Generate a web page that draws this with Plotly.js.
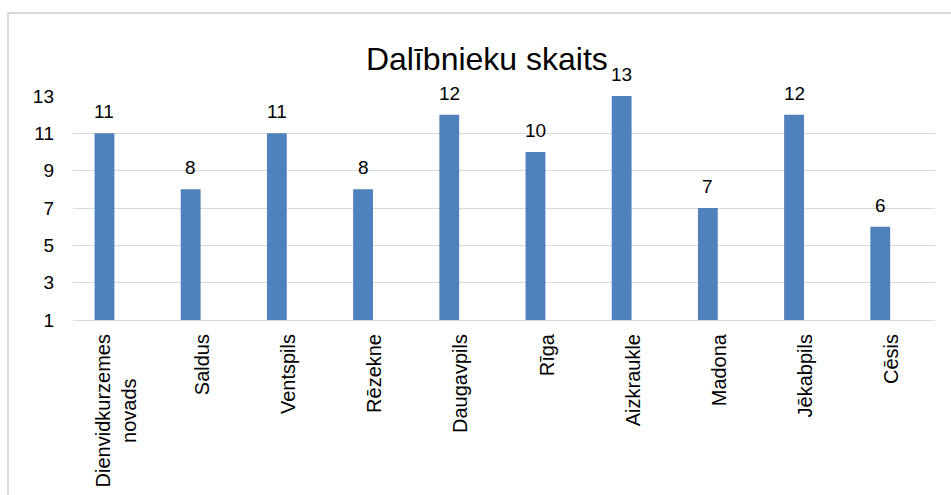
<!DOCTYPE html>
<html>
<head>
<meta charset="utf-8">
<script src="https://cdn.plot.ly/plotly-3.0.1.min.js"></script>
<style>
  html, body { margin: 0; padding: 0; background: #ffffff; overflow: hidden; }
  #frame { position: absolute; left: 7px; top: 12px; width: 1000px; height: 600px;
           border-left: 2px solid #d9d9d9; border-top: 2px solid #d9d9d9; box-sizing: border-box; }
  #chart { position: absolute; left: 0; top: 0; width: 951px; height: 495px; }
</style>
</head>
<body>
<div id="frame"></div>
<div id="chart"></div>
<script>
const categories = ["Dienvidkurzemes novads", "Saldus", "Ventspils", "Rēzekne", "Daugavpils",
                    "Rīga", "Aizkraukle", "Madona", "Jēkabpils", "Cēsis"];
const tickLabels = ["Dienvidkurzemes<br>novads" + "\u00a0".repeat(8), "Saldus", "Ventspils", "Rēzekne", "Daugavpils",
                    "Rīga", "Aizkraukle", "Madona", "Jēkabpils", "Cēsis"];
const values = [11, 8, 11, 8, 12, 10, 13, 7, 12, 6];
const yTicks = [1, 3, 5, 7, 9, 11, 13];
const chartTitle = "Dalībnieku skaits";

const FONT = "Liberation Sans, Arial, sans-serif";
const barOffset = -0.25;
const barWidth = 0.23;

const annotations = values.map((v, i) => ({
  x: i + barOffset + barWidth / 2,
  y: v,
  xref: "x", yref: "y",
  text: String(v),
  showarrow: false,
  yanchor: "bottom",
  yshift: 9,
  font: { family: FONT, size: 19, color: "#000000" }
}));

const trace = {
  type: "bar",
  x: categories,
  y: values,
  base: 0,
  offset: barOffset,
  width: barWidth,
  marker: { color: "#4f81bd", line: { width: 0 } },
  hoverinfo: "skip",
  cliponaxis: false
};

const layout = {
  width: 951, height: 495,
  margin: { l: 73, r: 16, t: 96, b: 175, pad: 0 },
  paper_bgcolor: "rgba(0,0,0,0)",
  plot_bgcolor: "rgba(0,0,0,0)",
  showlegend: false,
  title: {
    text: chartTitle,
    font: { family: FONT, size: 32, color: "#000000" },
    x: 0.512, xref: "container", xanchor: "center",
    y: 0.882, yref: "container", yanchor: "middle"
  },
  xaxis: {
    type: "category",
    range: [-0.5, 9.5],
    tickmode: "array",
    tickvals: categories,
    ticktext: tickLabels,
    tickangle: -90,
    tickfont: { family: FONT, size: 20, color: "#000000" },
    showgrid: false,
    showline: true, linecolor: "#d9d9d9", linewidth: 1,
    ticks: "",
    ticklabelstandoff: 5,
    fixedrange: true
  },
  yaxis: {
    range: [1, 13],
    tickmode: "array",
    tickvals: yTicks,
    ticktext: yTicks.map(String),
    tickfont: { family: FONT, size: 19, color: "#000000" },
    showgrid: true, gridcolor: "#d9d9d9", gridwidth: 1,
    zeroline: false,
    showline: false,
    ticks: "",
    ticklabelstandoff: 18,
    fixedrange: true
  },
  annotations: annotations
};

Plotly.newPlot("chart", [trace], layout, { displayModeBar: false, staticPlot: true });
</script>
</body>
</html>
